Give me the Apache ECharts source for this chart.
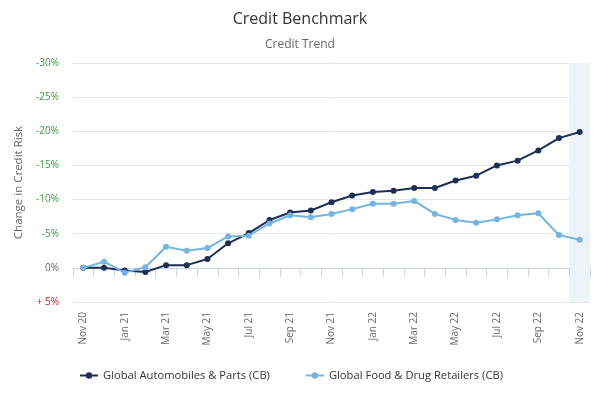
<!DOCTYPE html>
<html>
<head>
<meta charset="utf-8">
<script src="https://cdn.jsdelivr.net/npm/echarts@6/dist/echarts.min.js"></script>
<style>html,body{margin:0;padding:0;background:#fff;}#c{width:600px;height:400px;}</style>
</head>
<body>
<div id="c"></div>
<script>
const categories = ['Nov 20','Dec 20','Jan 21','Feb 21','Mar 21','Apr 21','May 21','Jun 21','Jul 21','Aug 21','Sep 21','Oct 21','Nov 21','Dec 21','Jan 22','Feb 22','Mar 22','Apr 22','May 22','Jun 22','Jul 22','Aug 22','Sep 22','Oct 22','Nov 22'];
const autoParts = [0, 0, 0.4, 0.6, -0.4, -0.4, -1.3, -3.6, -5.1, -7.0, -8.1, -8.4, -9.6, -10.6, -11.1, -11.3, -11.7, -11.7, -12.8, -13.5, -15.0, -15.7, -17.2, -19.0, -19.9];
const foodDrug = [0, -0.9, 0.7, -0.1, -3.1, -2.5, -2.9, -4.6, -4.7, -6.5, -7.7, -7.4, -7.9, -8.6, -9.4, -9.4, -9.8, -7.9, -7.0, -6.6, -7.1, -7.7, -8.0, -4.8, -4.1];
const highlightCategory = 'Nov 22';
const yTicks = [-30, -25, -20, -15, -10, -5, 0, 5];

const highlight = categories.map(c => c === highlightCategory ? 1 : null);
const FONT = '"Open Sans", "Noto Sans", sans-serif';
const chart = echarts.init(document.getElementById('c'), null, {renderer: 'canvas'});
chart.setOption({
  animation: false,
  textStyle: {fontFamily: FONT},
  title: {
    text: 'Credit Benchmark',
    subtext: 'Credit Trend',
    left: 'center',
    top: 6,
    itemGap: 12,
    textStyle: {fontFamily: FONT, fontSize: 16, fontWeight: 'normal', color: '#333'},
    subtextStyle: {fontFamily: FONT, fontSize: 12, color: '#666'}
  },
  legend: {
    data: ['Global Automobiles & Parts (CB)', 'Global Food & Drug Retailers (CB)'],
    left: 74,
    top: 365,
    itemGap: 35,
    itemWidth: 18,
    itemHeight: 8,
    textStyle: {fontFamily: FONT, fontSize: 11.2, color: '#333'}
  },
  grid: {left: 73, right: 10, top: 63, bottom: 98, containLabel: false},
  xAxis: {
    type: 'category',
    data: categories,
    boundaryGap: true,
    axisLine: {lineStyle: {color: '#ccd6eb'}},
    axisTick: {show: true, interval: 0, length: 9, lineStyle: {color: '#ccd6eb'}},
    axisLabel: {interval: 1, rotate: 90, fontSize: 10, color: '#666', margin: 10, fontFamily: FONT},
    splitLine: {show: false}
  },
  yAxis: [{
    type: 'value',
    inverse: true,
    min: yTicks[0],
    max: yTicks[yTicks.length - 1],
    interval: 5,
    name: 'Change in Credit Risk',
    nameLocation: 'middle',
    nameGap: 42,
    nameTextStyle: {fontFamily: FONT, fontSize: 11.5, color: '#666'},
    axisLine: {show: false},
    axisTick: {show: false},
    splitLine: {lineStyle: {color: '#e6e6e6'}},
    axisLabel: {
      fontSize: 10,
      margin: 14,
      fontFamily: FONT,
      formatter: function (v) {
        if (v < 0) return '{g|' + v + '%}';
        if (v > 0) return '{r|+ ' + v + '%}';
        return '{z|0%}';
      },
      rich: {
        g: {color: '#3a9a3a', fontSize: 10, fontFamily: FONT},
        r: {color: '#cc2222', fontSize: 10, fontFamily: FONT},
        z: {color: '#666', fontSize: 10, fontFamily: FONT}
      }
    }
  }, {
    type: 'value', min: 0, max: 1, show: false, splitLine: {show: false}
  }],
  series: [{
    name: 'highlight',
    type: 'bar',
    yAxisIndex: 1,
    data: highlight,
    barWidth: '100%',
    itemStyle: {color: '#eef2f9'},
    silent: true,
    z: 0
  }, {
    name: 'Global Automobiles & Parts (CB)',
    type: 'line',
    data: autoParts,
    color: '#1c2f55',
    symbol: 'circle',
    symbolSize: 6,
    lineStyle: {width: 2},
    z: 3
  }, {
    name: 'Global Food & Drug Retailers (CB)',
    type: 'line',
    data: foodDrug,
    color: '#72b4e2',
    symbol: 'circle',
    symbolSize: 6,
    lineStyle: {width: 2},
    z: 4
  }]
});
</script>
</body>
</html>
